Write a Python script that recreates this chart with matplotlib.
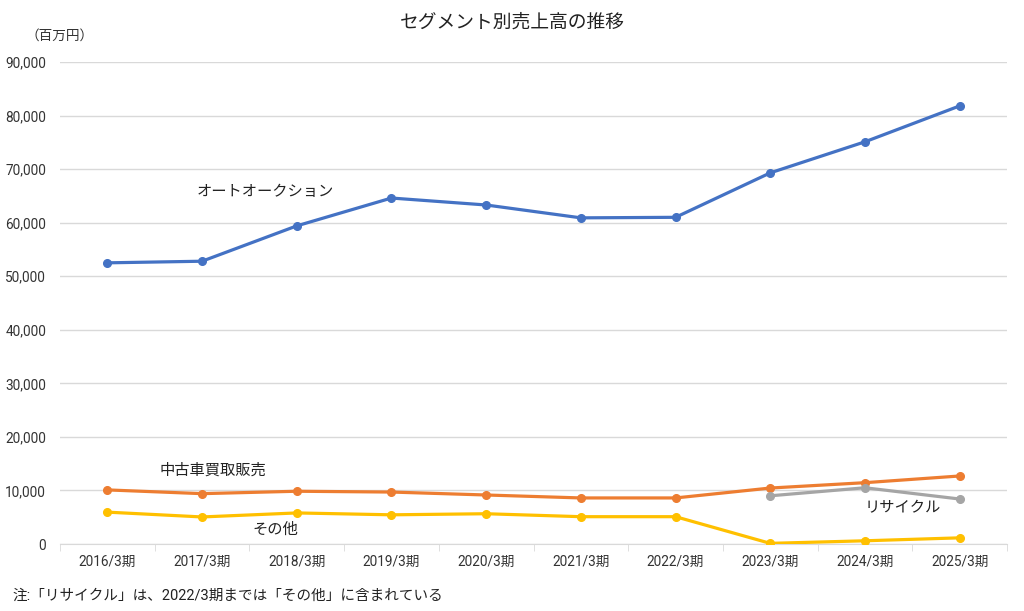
import numpy as np
import matplotlib.pyplot as plt

plt.rcParams['font.family'] = ['Roboto', 'Noto Sans CJK JP', 'DejaVu Sans']

years = ["2016/3期", "2017/3期", "2018/3期", "2019/3期", "2020/3期",
         "2021/3期", "2022/3期", "2023/3期", "2024/3期", "2025/3期"]
auto_auction = [52500, 52800, 59400, 64600, 63300, 60900, 61000, 69300, 75100, 81800]
used_car = [10100, 9400, 9850, 9700, 9150, 8600, 8600, 10450, 11450, 12700]
other = [5950, 5050, 5800, 5450, 5650, 5100, 5100, 120, 600, 1150]
recycle_years = ["2023/3期", "2024/3期", "2025/3期"]
recycle = [9000, 10500, 8400]

x = np.arange(len(years))
xr = [years.index(y) for y in recycle_years]

fig = plt.figure(figsize=(10.24, 6.11), dpi=100)
ax = fig.add_axes([60 / 1024, 1 - 544 / 611, 947 / 1024, 482 / 611])

lw, ms = 2.3, 5.5
ax.plot(x, auto_auction, color="#4472C4", lw=lw, marker="o", ms=ms, zorder=3)
ax.plot(x, used_car, color="#ED7D31", lw=lw, marker="o", ms=ms, zorder=3)
ax.plot(xr, recycle, color="#A5A5A5", lw=lw, marker="o", ms=ms, zorder=3)
ax.plot(x, other, color="#FFC000", lw=lw, marker="o", ms=ms, zorder=3)

ax.set_xlim(-0.5, len(years) - 0.5)
ax.set_ylim(0, 90000)
ax.set_yticks(np.arange(0, 90001, 10000))
ax.set_yticklabels([f"{v:,}" for v in range(0, 90001, 10000)])
ax.yaxis.grid(True, color="#d9d9d9", lw=1)
ax.set_axisbelow(True)
ax.set_xticks(x)
ax.set_xticklabels(years)
ax.set_xticks(np.arange(-0.5, len(years)), minor=True)
ax.tick_params(axis="x", which="major", length=0, pad=8, labelsize=9.8, colors="#333333")
ax.tick_params(axis="x", which="minor", length=5, color="#d9d9d9")
ax.tick_params(axis="y", length=0, pad=10, labelsize=9.8, colors="#333333")
for s in ["top", "right", "left"]:
    ax.spines[s].set_visible(False)
ax.spines["bottom"].set_color("#d9d9d9")

lab = dict(fontsize=11, color="#222222", ha="center", va="center")
ax.text(1.67, 65800, "オートオークション", **lab)
ax.text(1.11, 13800, "中古車買取販売", **lab)
ax.text(1.77, 2700, "その他", **lab)
ax.text(8.4, 6700, "リサイクル", **lab)

fig.text(512 / 1024, 1 - 23 / 611, "セグメント別売上高の推移", fontsize=13.5,
         ha="center", va="center", color="#222222")
fig.text(60 / 1024, 1 - 36 / 611, "（百万円）", fontsize=9.8, ha="center",
         va="center", color="#333333")
fig.text(12 / 1024, 1 - 596 / 611, "注:「リサイクル」は、2022/3期までは「その他」に含まれている",
         fontsize=10.5, ha="left", va="center", color="#222222")

fig.savefig("out.png", dpi=100)
